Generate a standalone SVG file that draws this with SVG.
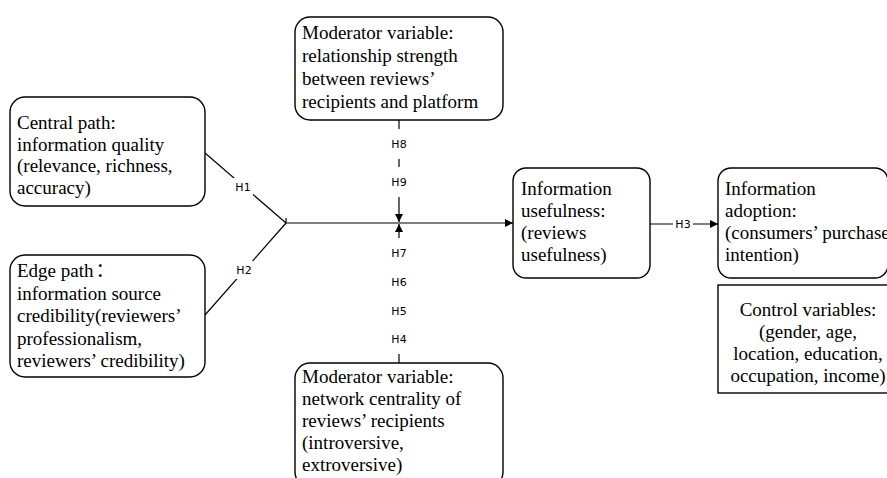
<svg xmlns="http://www.w3.org/2000/svg" width="887" height="478" viewBox="0 0 887 478">
  <style>
    .box { fill: #fff; stroke: #000; stroke-width: 1.4; }
    .txt { font-family: "Liberation Serif", "Times New Roman", "Noto Sans CJK SC", serif; font-size: 19px; fill: #000; }
    .edge { fill: none; stroke: #000; stroke-width: 1.2; }
    .lbl { font-family: "DejaVu Sans", Verdana, sans-serif; font-size: 11px; fill: #000; text-anchor: middle; dominant-baseline: central; }
    .lblbg { fill: #fff; stroke: none; }
  </style>
  <defs>
    <marker id="arrow" viewBox="0 0 10 10" refX="10" refY="5" markerWidth="9" markerHeight="8" markerUnits="userSpaceOnUse" orient="auto">
      <path d="M0,0 L10,5 L0,10 z" fill="#000"/>
    </marker>
  </defs>
  <rect width="887" height="478" fill="#fff"/>

  <!-- connectors -->
  <g id="connectors">
    <line class="edge" x1="205" y1="153" x2="286" y2="223"/>
    <line class="edge" x1="205" y1="315" x2="286" y2="223"/>
    <line class="edge" x1="286" y1="218" x2="286" y2="223"/>
    <line class="edge" x1="286" y1="223" x2="513" y2="223" marker-end="url(#arrow)"/>
    <line class="edge" x1="399" y1="120" x2="399" y2="222" marker-end="url(#arrow)"/>
    <line class="edge" x1="399" y1="363" x2="399" y2="224" marker-end="url(#arrow)"/>
    <line class="edge" x1="650" y1="224" x2="718" y2="224" marker-end="url(#arrow)"/>

    <rect class="lblbg" x="233" y="178" width="20" height="18"/>
    <text class="lbl" x="243" y="187">H1</text>
    <rect class="lblbg" x="234" y="261" width="20" height="18"/>
    <text class="lbl" x="244" y="270">H2</text>
    <rect class="lblbg" x="673" y="218" width="20" height="12"/>
    <text class="lbl" x="683" y="224">H3</text>

    <rect class="lblbg" x="389" y="129" width="20" height="30"/>
    <text class="lbl" x="399" y="144">H8</text>
    <rect class="lblbg" x="389" y="167" width="20" height="30"/>
    <text class="lbl" x="399" y="182">H9</text>

    <rect class="lblbg" x="389" y="238" width="20" height="116"/>
    <text class="lbl" x="399" y="253">H7</text>
    <text class="lbl" x="399" y="282">H6</text>
    <text class="lbl" x="399" y="311">H5</text>
    <text class="lbl" x="399" y="339">H4</text>
  </g>

  <!-- nodes -->
  <g id="central-path">
    <rect class="box" x="10" y="97" width="195" height="109" rx="15" ry="15"/>
    <text class="txt" x="17" y="129">Central path:</text>
    <text class="txt" x="17" y="150.5">information quality</text>
    <text class="txt" x="17" y="172">(relevance, richness,</text>
    <text class="txt" x="17" y="193.5">accuracy)</text>
  </g>

  <g id="edge-path">
    <rect class="box" x="10" y="255" width="195" height="122" rx="15" ry="15"/>
    <text class="txt" x="17" y="277">Edge path<tspan dx="2">：</tspan></text>
    <text class="txt" x="17" y="299.5">information source</text>
    <text class="txt" x="17" y="322">credibility(reviewers’</text>
    <text class="txt" x="17" y="344.5">professionalism,</text>
    <text class="txt" x="17" y="367">reviewers’ credibility)</text>
  </g>

  <g id="moderator-relationship">
    <rect class="box" x="295" y="17" width="208" height="103" rx="15" ry="15"/>
    <text class="txt" x="302" y="39">Moderator variable:</text>
    <text class="txt" x="302" y="62">relationship strength</text>
    <text class="txt" x="302" y="85">between reviews’</text>
    <text class="txt" x="302" y="108">recipients and platform</text>
  </g>

  <g id="moderator-centrality">
    <rect class="box" x="295" y="363" width="208" height="124" rx="15" ry="15"/>
    <text class="txt" x="302" y="383">Moderator variable:</text>
    <text class="txt" x="302" y="405">network centrality of</text>
    <text class="txt" x="302" y="427">reviews’ recipients</text>
    <text class="txt" x="302" y="449">(introversive,</text>
    <text class="txt" x="302" y="471">extroversive)</text>
  </g>

  <g id="information-usefulness">
    <rect class="box" x="513" y="168" width="137" height="110" rx="13" ry="13"/>
    <text class="txt" x="521" y="195">Information</text>
    <text class="txt" x="521" y="217">usefulness:</text>
    <text class="txt" x="521" y="239">(reviews</text>
    <text class="txt" x="521" y="261">usefulness)</text>
  </g>

  <g id="information-adoption">
    <rect class="box" x="718" y="168" width="170" height="110" rx="13" ry="13"/>
    <text class="txt" x="725" y="195">Information</text>
    <text class="txt" x="725" y="217">adoption:</text>
    <text class="txt" x="725" y="239">(consumers’ purchase</text>
    <text class="txt" x="725" y="261">intention)</text>
  </g>

  <g id="control-variables">
    <rect class="box" x="718" y="285" width="182" height="108"/>
    <text class="txt" x="808" y="316" text-anchor="middle">Control variables:</text>
    <text class="txt" x="808" y="338" text-anchor="middle">(gender, age,</text>
    <text class="txt" x="808" y="360" text-anchor="middle">location, education,</text>
    <text class="txt" x="808" y="382" text-anchor="middle">occupation, income)</text>
  </g>
</svg>
